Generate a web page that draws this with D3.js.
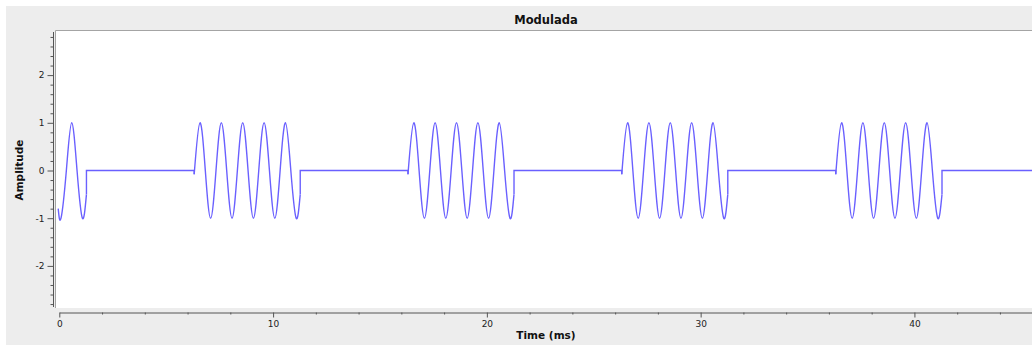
<!DOCTYPE html>
<html>
<head>
<meta charset="utf-8">
<script src="https://cdn.jsdelivr.net/npm/d3@7"></script>
<style>
  html, body { margin: 0; padding: 0; background: #fff; }
  svg { display: block; }
  text { font-family: "DejaVu Sans", sans-serif; }
</style>
</head>
<body>
<svg width="1032" height="345"></svg>
<script>
// Modulated signal (ASK): key points [time ms, amplitude]
const burst0 = [[-0.05, -0.8], [0.08, -1], [0.33, 0], [0.58, 1], [0.83, 0], [1.08, -1], [1.27, -0.5]];
const burst1 = [[6.31, -0.08], [6.58, 1], [6.83, 0], [7.08, -1], [7.33, 0], [7.58, 1], [7.83, 0], [8.08, -1],
  [8.33, 0], [8.58, 1], [8.83, 0], [9.08, -1], [9.33, 0], [9.58, 1], [9.83, 0], [10.08, -1],
  [10.33, 0], [10.58, 1], [10.83, 0], [11.08, -1], [11.27, -0.5]];
const burst2 = [[16.31, -0.08], [16.58, 1], [16.83, 0], [17.08, -1], [17.33, 0], [17.58, 1], [17.83, 0], [18.08, -1],
  [18.33, 0], [18.58, 1], [18.83, 0], [19.08, -1], [19.33, 0], [19.58, 1], [19.83, 0], [20.08, -1],
  [20.33, 0], [20.58, 1], [20.83, 0], [21.08, -1], [21.27, -0.5]];
const burst3 = [[26.31, -0.08], [26.58, 1], [26.83, 0], [27.08, -1], [27.33, 0], [27.58, 1], [27.83, 0], [28.08, -1],
  [28.33, 0], [28.58, 1], [28.83, 0], [29.08, -1], [29.33, 0], [29.58, 1], [29.83, 0], [30.08, -1],
  [30.33, 0], [30.58, 1], [30.83, 0], [31.08, -1], [31.27, -0.5]];
const burst4 = [[36.32, -0.08], [36.59, 1], [36.84, 0], [37.09, -1], [37.34, 0], [37.59, 1], [37.84, 0], [38.09, -1],
  [38.34, 0], [38.59, 1], [38.84, 0], [39.09, -1], [39.34, 0], [39.59, 1], [39.84, 0], [40.09, -1],
  [40.34, 0], [40.59, 1], [40.84, 0], [41.09, -1], [41.29, -0.5]];
const bursts = [burst0, burst1, burst2, burst3, burst4];

const xTicks = [0, 10, 20, 30, 40];
const yTicks = [-2, -1, 0, 1, 2];

const svg = d3.select('svg');
const width = +svg.attr('width');
const height = +svg.attr('height');

const x = d3.scaleLinear().domain([0, 45.5]).range([59.3, 1032]);
const y = d3.scaleLinear().domain([-3, 3]).range([313.6, 27.4]);

const canvas = { left: 55.5, top: 30.5, bottom: 308 };

// window background
svg.append('rect')
  .attr('x', 6).attr('y', 6)
  .attr('width', width - 6).attr('height', height - 6)
  .attr('fill', '#ededed');

// plot canvas
svg.append('rect')
  .attr('x', canvas.left).attr('y', canvas.top)
  .attr('width', width - canvas.left).attr('height', canvas.bottom - canvas.top)
  .attr('fill', '#fff');
svg.append('path')
  .attr('d', `M${canvas.left},${canvas.bottom}V${canvas.top}H${width}`)
  .attr('fill', 'none')
  .attr('stroke', '#a4a4a4')
  .attr('stroke-width', 1);

svg.append('clipPath').attr('id', 'clip')
  .append('rect')
  .attr('x', canvas.left + 0.5).attr('y', canvas.top + 0.5)
  .attr('width', width).attr('height', canvas.bottom - canvas.top);

// title
svg.append('text')
  .attr('x', 546).attr('y', 24)
  .attr('text-anchor', 'middle')
  .attr('font-size', 11.5).attr('font-weight', 'bold')
  .attr('fill', '#111')
  .text('Modulada');

// y axis
const yMinor = d3.range(-28, 29, 2).map(d => d / 10).filter(d => !yTicks.includes(d));
const yAxisG = svg.append('g').attr('transform', 'translate(53.5,0)');
yAxisG.call(d3.axisLeft(y).tickValues(yMinor).tickSize(3).tickFormat(''));
yAxisG.call(g => g.select('.domain').remove());
const yMajorG = svg.append('g').attr('transform', 'translate(53.5,0)')
  .call(d3.axisLeft(y).tickValues(yTicks).tickSize(6).tickPadding(3).tickFormat(d => String(d)));
yMajorG.select('.domain').remove();
svg.append('line')
  .attr('x1', 53.5).attr('x2', 53.5)
  .attr('y1', 32).attr('y2', 307)
  .attr('stroke', '#555');

// x axis
const xMinor = d3.range(2, 46, 2).filter(d => !xTicks.includes(d));
const xAxisG = svg.append('g').attr('transform', 'translate(0,312.5)');
xAxisG.call(d3.axisBottom(x).tickValues(xMinor).tickSize(2).tickSizeOuter(0).tickFormat(''));
svg.append('g').attr('transform', 'translate(0,312.5)')
  .call(d3.axisBottom(x).tickValues(xTicks).tickSize(5).tickSizeOuter(0).tickPadding(3))
  .call(g => g.select('.domain').remove());

svg.selectAll('.tick line').attr('stroke', '#555');
svg.selectAll('.domain').attr('stroke', '#555');
svg.selectAll('.tick text')
  .attr('font-family', '"DejaVu Sans", sans-serif')
  .attr('font-size', 9)
  .attr('fill', '#222');

// axis titles
svg.append('text')
  .attr('x', 546).attr('y', 339)
  .attr('text-anchor', 'middle')
  .attr('font-size', 10.5).attr('font-weight', 'bold')
  .attr('fill', '#111')
  .text('Time (ms)');
svg.append('text')
  .attr('transform', 'translate(23,170) rotate(-90)')
  .attr('text-anchor', 'middle')
  .attr('font-size', 10.5).attr('font-weight', 'bold')
  .attr('fill', '#111')
  .text('Amplitude');

// signal
const plot = svg.append('g').attr('clip-path', 'url(#clip)');
const lineColor = '#6a60ff';

const wave = d3.line()
  .x(d => x(d[0]))
  .y(d => y(d[1]))
  .curve(d3.curveNatural);
const straight = d3.line()
  .x(d => x(d[0]))
  .y(d => y(d[1]));

// gaps between bursts: drop to zero, flat, then into the next burst
const gaps = bursts.map((b, i) => {
  const end = b[b.length - 1];
  const next = bursts[i + 1];
  const pts = [end, [end[0], 0]];
  if (next) {
    pts.push([next[0][0], 0], next[0]);
  } else {
    pts.push([x.domain()[1], 0]);
  }
  return pts;
});

plot.selectAll('path.gap')
  .data(gaps)
  .enter().append('path')
  .attr('class', 'gap')
  .attr('d', straight)
  .attr('fill', 'none')
  .attr('stroke', lineColor)
  .attr('stroke-width', 1.4);

plot.selectAll('path.burst')
  .data(bursts)
  .enter().append('path')
  .attr('class', 'burst')
  .attr('d', wave)
  .attr('fill', 'none')
  .attr('stroke', lineColor)
  .attr('stroke-width', 1.4);
</script>
</body>
</html>
